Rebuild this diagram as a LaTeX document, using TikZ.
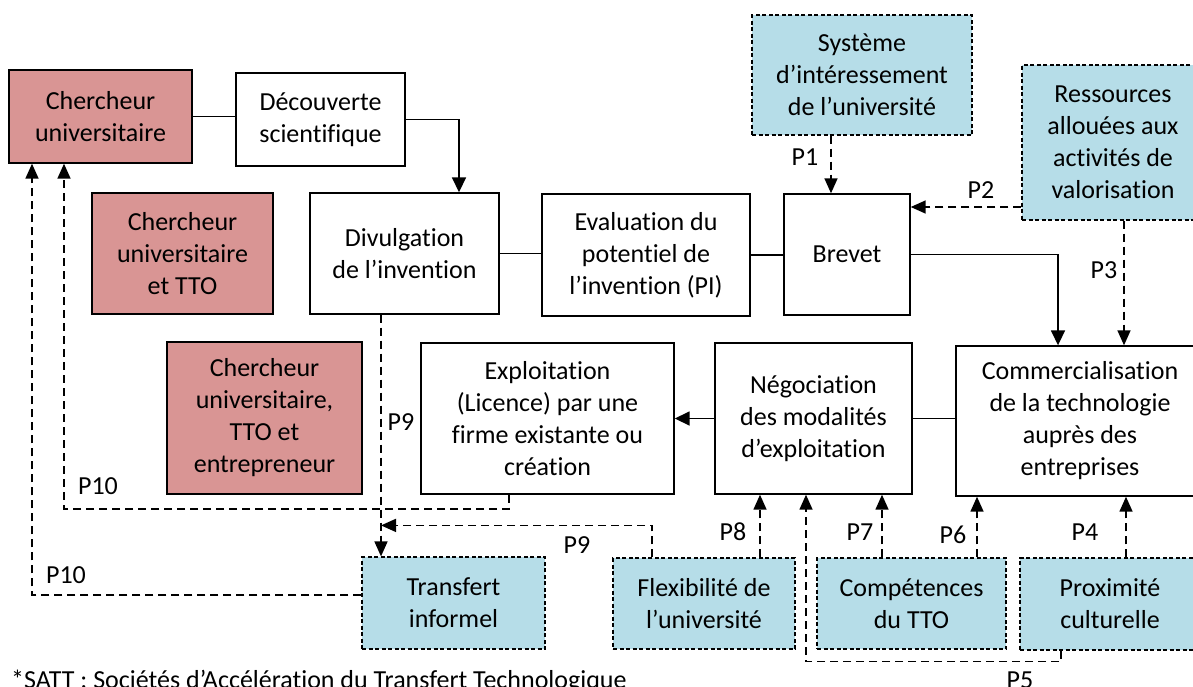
\documentclass[tikz,border=0pt]{standalone}
\usepackage{fontspec}
\setmainfont{Carlito}[Ligatures=NoCommon]
\usetikzlibrary{arrows.meta,calc}
\definecolor{redf}{HTML}{D99594}
\definecolor{bluef}{HTML}{B6DDE8}
\begin{document}
\begin{tikzpicture}[x=1pt,y=-1pt,
  every node/.style={font=\fontsize{26}{32}\selectfont},
  box/.style={draw, line width=1.4pt, align=center, inner sep=0pt},
  rbox/.style={box, fill=redf},
  bbox/.style={draw, line width=1.2pt, dash pattern=on 4pt off 2.5pt, fill=bluef, align=center, inner sep=0pt},
  conn/.style={line width=1.7pt},
  arr/.style={conn, -{Triangle[length=15pt,width=14pt]}},
  dconn/.style={line width=1.6pt, dash pattern=on 8pt off 5pt},
  darr/.style={dconn, -{Triangle[length=15pt,width=13pt]}},
  lbl/.style={inner sep=0pt}
]
\useasboundingbox (0,0) rectangle (1193,686);

% nodes
\node[rbox, minimum width=183pt, minimum height=93pt] (cu) at (100.5,116.5) {Chercheur\\universitaire};
\node[box, minimum width=169pt, minimum height=93pt] (dec) at (320.5,119.5) {Découverte\\scientifique};
\node[rbox, minimum width=181pt, minimum height=121pt] (cut) at (182.5,253.5) {Chercheur\\universitaire\\et TTO};
\node[box, minimum width=189pt, minimum height=121pt] (div) at (404.5,253.5) {Divulgation\\de l’invention};
\node[box, minimum width=208pt, minimum height=122pt] (eval) at (646,255) {Evaluation du\\potentiel de\\l’invention (PI)};
\node[box, minimum width=126pt, minimum height=121pt] (brev) at (847,254.5) {Brevet};
\node[bbox, minimum width=220pt, minimum height=120pt] (sys) at (862,75) {Système\\d’intéressement\\de l’université};
\node[bbox, minimum width=182pt, minimum height=155pt] (res) at (1113,142.5) {Ressources\\allouées aux\\activités de\\valorisation};
\node[rbox, minimum width=195pt, minimum height=152pt] (cute) at (264.5,418) {Chercheur\\universitaire,\\TTO et\\entrepreneur};
\node[box, minimum width=253pt, minimum height=151pt] (exp) at (547.5,418.5) {Exploitation\\(Licence) par une\\firme existante ou\\création};
\node[box, minimum width=197pt, minimum height=151pt] (neg) at (813.5,418.5) {Négociation\\des modalités\\d’exploitation};
\node[box, minimum width=248pt, minimum height=150pt] (com) at (1080,421) {Commercialisation\\de la technologie\\auprès des\\entreprises};
\node[bbox, minimum width=183pt, minimum height=92pt] (tra) at (453.5,603) {Transfert\\informel};
\node[bbox, minimum width=182pt, minimum height=91pt] (fle) at (704,603.5) {Flexibilité de\\l’université};
\node[bbox, minimum width=189pt, minimum height=91pt] (comp) at (911.5,603.5) {Compétences\\du TTO};
\node[bbox, minimum width=180pt, minimum height=92pt] (prox) at (1110,604) {Proximité\\culturelle};

% solid connectors
\draw[conn] (cu.east) -- (cu.east -| dec.west);
\draw[arr] (dec.east) -| ($(div.north)+(54.5,0)$);
\draw[conn] (div.east) -- (div.east -| eval.west);
\draw[conn] (eval.east) -- (eval.east -| brev.west);
\draw[arr] (brev.east) -| ($(com.north)+(-22,0)$);
\draw[conn] (neg.east) -- (neg.east -| com.west);
\draw[arr] (neg.west) -- (neg.west -| exp.east);

% dashed connectors
\draw[darr] ($(sys.south)+(-31,0)$) -- ($(brev.north)+(-16,0)$);
\draw[darr] ($(res.west)+(0,64.5)$) -- ($(brev.east)+(0,-47.5)$);
\draw[darr] ($(res.south)+(11,0)$) -- ($(com.north)+(44,0)$);
\draw[darr] ($(div.south)+(-23.5,0)$) -- ($(tra.north)+(-72.5,0)$);
\draw[darr] ($(fle.north)+(-52,0)$) -- ($(fle.north)+(-52,-32)$) -- ($(tra.north)+(-72.5,-31)$);
\draw[darr] ($(exp.south)+(-38.5,0)$) -- ($(exp.south)+(-38.5,14)$) -| ($(cu.south)+(-36.5,0)$);
\draw[darr] ($(tra.west)+(0,-8)$) -| ($(cu.south)+(-68.5,0)$);
\draw[darr] ($(fle.north)+(56,0)$) -- ($(neg.south)+(-53.5,0)$);
\draw[darr] ($(comp.north)+(-29.5,0)$) -- ($(neg.south)+(68.5,0)$);
\draw[darr] ($(comp.north)+(65.5,0)$) -- ($(com.south)+(-103,0)$);
\draw[darr] ($(prox.north)+(16,0)$) -- ($(com.south)+(46,0)$);
\draw[darr] ($(prox.south)+(-49,0)$) -- ($(prox.south)+(-49,11)$) -| ($(neg.south)+(-7.5,0)$);

% labels
\node[lbl] (l1) at (805,157) {P1};
\node[lbl] (l2) at (981,190) {P2};
\node[lbl] (l3) at (1104,270) {P3};
\node[lbl] (l9a) at (401,422) {P9};
\node[lbl] (l10a) at (98,486) {P10};
\node[lbl] (l10b) at (66,575) {P10};
\node[lbl] (l9b) at (577,545) {P9};
\node[lbl] (l8) at (733,532) {P8};
\node[lbl] (l7) at (860,532) {P7};
\node[lbl] (l6) at (953,535) {P6};
\node[lbl] (l4) at (1085,532) {P4};
\node[lbl] (l5) at (1020,680) {P5};

\node[anchor=base west, inner sep=0pt] (fn) at (11,688) {*SATT : Sociétés d’Accélération du Transfert Technologique};
\end{tikzpicture}
\end{document}
